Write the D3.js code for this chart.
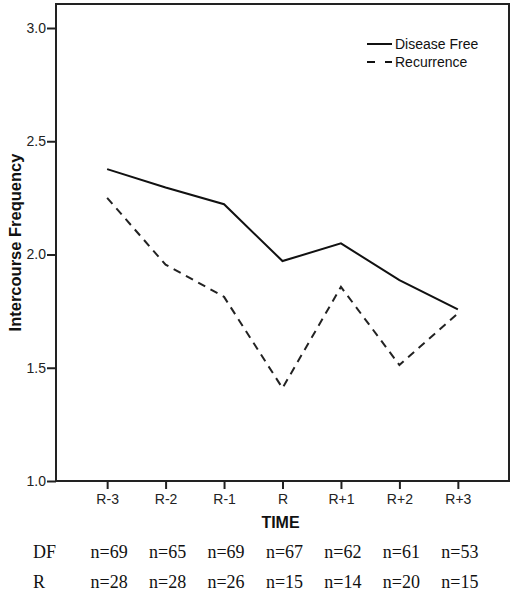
<!DOCTYPE html>
<html>
<head>
<meta charset="utf-8">
<script src="https://cdn.jsdelivr.net/npm/d3@7/dist/d3.min.js"></script>
<style>
  html, body { margin: 0; padding: 0; background: #fff; }
  svg { display: block; }
</style>
</head>
<body>
<svg id="chart" width="514" height="600"></svg>
<script>
const categories = ["R-3", "R-2", "R-1", "R", "R+1", "R+2", "R+3"];
const diseaseFree = [2.377, 2.296, 2.222, 1.971, 2.049, 1.887, 1.758];
const recurrence = [2.250, 1.955, 1.813, 1.410, 1.857, 1.512, 1.740];
const yTicks = [1.0, 1.5, 2.0, 2.5, 3.0];
const nDF = ["n=69", "n=65", "n=69", "n=67", "n=62", "n=61", "n=53"];
const nR = ["n=28", "n=28", "n=26", "n=15", "n=14", "n=20", "n=15"];
const seriesNames = ["Disease Free", "Recurrence"];

(function () {
const svg = d3.select("#chart");
const pLeft = 56, pRight = 509, pTop = 4, pBottom = 481;
const sans = "Arial, 'Liberation Sans', sans-serif";
const serif = "'Times New Roman', 'Liberation Serif', serif";

const x = d3.scalePoint().domain(categories).range([pLeft, pRight]).padding(0.875);
const y = d3.scaleLinear().domain([1.0, 3.0]).range([pBottom, 28]);

// frame
svg.append("rect")
  .attr("x", pLeft).attr("y", pTop)
  .attr("width", pRight - pLeft).attr("height", pBottom - pTop)
  .attr("fill", "none").attr("stroke", "#222").attr("stroke-width", 2);

// y axis
const yAxis = svg.append("g").attr("transform", `translate(${pLeft},0)`)
  .call(d3.axisLeft(y).tickValues(yTicks).tickFormat(d3.format(".1f")).tickSize(9).tickPadding(1));
yAxis.select(".domain").remove();
yAxis.selectAll("line").attr("stroke", "#222").attr("stroke-width", 2);
yAxis.selectAll("text").attr("font-family", sans)
  .attr("font-size", 14).attr("fill", "#222");

// x axis
const xAxis = svg.append("g").attr("transform", `translate(0,${pBottom})`)
  .call(d3.axisBottom(x).tickSize(8).tickPadding(5));
xAxis.select(".domain").remove();
xAxis.selectAll("line").attr("stroke", "#222").attr("stroke-width", 2);
xAxis.selectAll("text").attr("font-family", sans)
  .attr("font-size", 14).attr("fill", "#222");

// axis titles
svg.append("text")
  .attr("x", (pLeft + pRight) / 2 - 2).attr("y", 528)
  .attr("text-anchor", "middle")
  .attr("font-family", sans)
  .attr("font-size", 16).attr("font-weight", "bold").attr("fill", "#111")
  .text("TIME");

svg.append("text")
  .attr("transform", `translate(21,${(pTop + pBottom) / 2}) rotate(-90)`)
  .attr("text-anchor", "middle")
  .attr("font-family", sans)
  .attr("font-size", 16.5).attr("font-weight", "bold").attr("fill", "#111")
  .text("Intercourse Frequency");

// lines
const line = d3.line().x((d, i) => x(categories[i])).y(d => y(d));
svg.append("path").datum(diseaseFree)
  .attr("d", line).attr("fill", "none")
  .attr("stroke", "#111").attr("stroke-width", 2);
svg.append("path").datum(recurrence)
  .attr("d", line).attr("fill", "none")
  .attr("stroke", "#222").attr("stroke-width", 2)
  .attr("stroke-dasharray", "8,6");

// legend
const legend = svg.append("g");
const legendDash = [null, "8,10"];
seriesNames.forEach((name, i) => {
  const ly = 44 + i * 18;
  legend.append("line")
    .attr("x1", 367).attr("x2", 392).attr("y1", ly).attr("y2", ly)
    .attr("stroke", "#111").attr("stroke-width", 2)
    .attr("stroke-dasharray", legendDash[i]);
  legend.append("text")
    .attr("x", 395).attr("y", ly + 5)
    .attr("font-family", sans)
    .attr("font-size", 14).attr("fill", "#111")
    .text(name);
});

// sample size table
const rows = [["DF", nDF, 558], ["R", nR, 588]];
rows.forEach(([label, vals, ry]) => {
  svg.append("text")
    .attr("x", 33).attr("y", ry)
    .attr("font-family", serif)
    .attr("font-size", 18).attr("fill", "#111")
    .text(label);
  svg.selectAll(null).data(vals).enter().append("text")
    .attr("x", (d, i) => x(categories[i]) + 2)
    .attr("y", ry)
    .attr("text-anchor", "middle")
    .attr("font-family", serif)
    .attr("font-size", 18).attr("fill", "#111")
    .text(d => d);
});
})();
</script>
</body>
</html>
